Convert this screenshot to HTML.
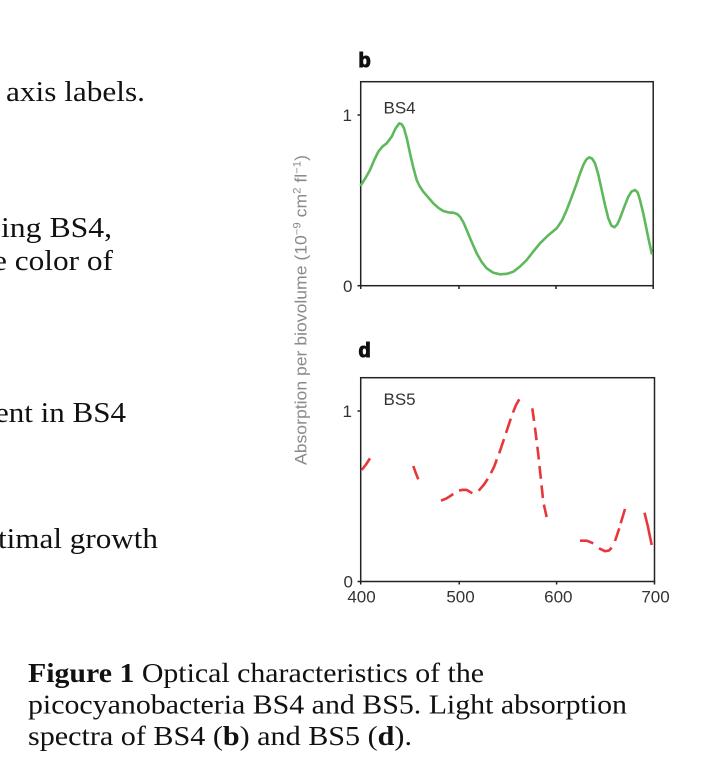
<!DOCTYPE html>
<html>
<head>
<meta charset="utf-8">
<style>
  html, body { margin: 0; padding: 0; background: #ffffff; }
  body { width: 718px; height: 778px; overflow: hidden; }
  svg { display: block; }
</style>
</head>
<body>
<svg width="718" height="778" viewBox="0 0 718 778" xmlns="http://www.w3.org/2000/svg">
  <rect x="0" y="0" width="718" height="778" fill="#ffffff"/>

  <!-- Left column clipped body text -->
  <g font-family="'Liberation Serif', serif" font-size="28" fill="#111">
    <text x="6" y="101" textLength="139" lengthAdjust="spacingAndGlyphs">axis labels.</text>
    <text x="1" y="237" textLength="111" lengthAdjust="spacingAndGlyphs">ing BS4,</text>
    <text x="-7" y="270" textLength="120" lengthAdjust="spacingAndGlyphs">e color of</text>
    <text x="-5" y="422" textLength="131" lengthAdjust="spacingAndGlyphs">ent in BS4</text>
    <text x="-2" y="548" textLength="160" lengthAdjust="spacingAndGlyphs">timal growth</text>
  </g>

  <!-- Caption -->
  <g font-family="'Liberation Serif', serif" font-size="27.5" fill="#111">
    <text x="28" y="682" textLength="456" lengthAdjust="spacingAndGlyphs"><tspan font-weight="bold">Figure 1</tspan> Optical characteristics of the</text>
    <text x="28" y="713.5" textLength="599" lengthAdjust="spacingAndGlyphs">picocyanobacteria BS4 and BS5. Light absorption</text>
    <text x="28" y="745" textLength="384" lengthAdjust="spacingAndGlyphs">spectra of BS4 (<tspan font-weight="bold">b</tspan>) and BS5 (<tspan font-weight="bold">d</tspan>).</text>
  </g>

  <!-- Y axis label -->
  <text transform="translate(306.5,310) rotate(-90)" text-anchor="middle" font-family="'Liberation Sans', sans-serif" font-size="17" fill="#8a8a8a" textLength="310" lengthAdjust="spacingAndGlyphs">Absorption per biovolume (10<tspan font-size="11" dy="-6">−9</tspan><tspan dy="6"> cm</tspan><tspan font-size="11" dy="-6">2</tspan><tspan dy="6"> fl</tspan><tspan font-size="11" dy="-6">−1</tspan><tspan dy="6">)</tspan></text>

  <!-- Panel letters -->
  <g font-family="'Liberation Sans', sans-serif" font-size="20" font-weight="bold" fill="#111" stroke="#111" stroke-width="1.1">
    <text x="358.5" y="67">b</text>
    <text x="358.5" y="357">d</text>
  </g>

  <!-- ===== Top panel (b) ===== -->
  <g fill="none" stroke="#222" stroke-width="1.5">
    <rect x="360.7" y="81.7" width="292.5" height="204"/>
    <line x1="357.5" y1="115" x2="360.7" y2="115"/>
    <line x1="357.5" y1="285.7" x2="360.7" y2="285.7"/>
    <line x1="360.7" y1="285.7" x2="360.7" y2="289"/>
    <line x1="459" y1="285.7" x2="459" y2="289"/>
    <line x1="556" y1="285.7" x2="556" y2="289"/>
    <line x1="653.2" y1="285.7" x2="653.2" y2="289"/>
  </g>
  <g font-family="'Liberation Sans', sans-serif" font-size="17" fill="#333">
    <text x="352" y="121" text-anchor="end">1</text>
    <text x="352.5" y="292" text-anchor="end">0</text>
    <text x="383.5" y="113.3">BS4</text>
  </g>
  <polyline fill="none" stroke="#5db95b" stroke-width="2.6" stroke-linejoin="round" stroke-linecap="round"
    points="361,185 365.5,178 370,170 374,160.5 378.3,151.7 382.5,146.5 386.7,143.3 391.7,136.7 395.5,128.5 399.3,123.3 401.8,124.3 404,128.3 407,139 410,153.3 413.3,167.5 416.7,180 419.5,186 423.3,191.7 428.3,197.5 433.3,203.3 438.3,207.8 443.3,211 448.3,212.4 453.3,212.7 457,214 460,216.7 463.5,222.5 466.7,230 471.7,242 476.7,253.3 481.7,262 486.7,268.3 493,272.6 500,274.3 507,273.8 513.3,271.7 520,266.5 526.7,260 533.3,251.5 540,243.3 548,235.5 556.7,228.3 562,220.5 566.7,210 571.7,197 576.7,183.3 580,173.5 583.3,165 586.3,159.5 589.3,157.3 592.2,158.7 595,163.3 598.3,174.5 601.7,190 605,205 608.3,218.3 611.3,225.5 614.3,227.3 617.2,224.5 620,218.3 624.2,207 628.3,196.7 631.5,191.6 635,190 637.7,192.5 640,200 643.3,213.5 646.7,230 649.2,242 651.7,253.3"/>

  <!-- ===== Bottom panel (d) ===== -->
  <g fill="none" stroke="#222" stroke-width="1.5">
    <rect x="360.7" y="377.7" width="293.8" height="203.8"/>
    <line x1="357.5" y1="411" x2="360.7" y2="411"/>
    <line x1="357.5" y1="581.5" x2="360.7" y2="581.5"/>
    <line x1="360.7" y1="581.5" x2="360.7" y2="584.5"/>
    <line x1="459.2" y1="581.5" x2="459.2" y2="584.5"/>
    <line x1="556.6" y1="581.5" x2="556.6" y2="584.5"/>
    <line x1="654.5" y1="581.5" x2="654.5" y2="584.5"/>
  </g>
  <g font-family="'Liberation Sans', sans-serif" font-size="17" fill="#333">
    <text x="352" y="417" text-anchor="end">1</text>
    <text x="353" y="587.5" text-anchor="end">0</text>
    <text x="383.5" y="405">BS5</text>
    <text x="361.5" y="602.7" text-anchor="middle">400</text>
    <text x="460.5" y="602.7" text-anchor="middle">500</text>
    <text x="558.3" y="602.7" text-anchor="middle">600</text>
    <text x="655.5" y="602.7" text-anchor="middle">700</text>
  </g>

  <g fill="none" stroke="#e8363d" stroke-width="2.6" stroke-linejoin="round" stroke-linecap="butt">
    <polyline points="361.7,470 366,464.5 370,458.3"/>
    <polyline points="413.3,466 415.6,472.5 418.3,479.3"/>
    <polyline points="441,500.7 446.7,498.3 453.3,494"/>
    <polyline points="459,490.5 463,489.8 466.7,489.9 472.3,493.3"/>
    <polyline stroke-dasharray="15 6.5" points="478.7,490.7 484,484.5 489,477 494,467 500,451 506,433 512,415 516,405 519.3,399.3"/>
    <polyline stroke-dasharray="12.8 6.6" points="532.3,408.3 535,428 538,452 541,480 543.3,502 546.7,517.3"/>
    <polyline points="580,540.7 586.7,540.7 593.3,543.3"/>
    <polyline points="599,548.3 605,551.2 609,550.5 611.7,547.7"/>
    <polyline points="615,541 619.3,528.3"/>
    <polyline points="620.7,523.3 625,509"/>
    <polyline points="644.5,512.7 648,527 651.7,545"/>
  </g>
</svg>
</body>
</html>
